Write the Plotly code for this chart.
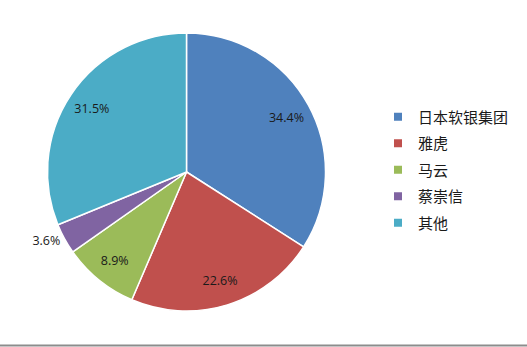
import plotly.graph_objects as go

labels = ["日本软银集团", "雅虎", "马云", "蔡崇信", "其他"]
values = [34.4, 22.6, 8.9, 3.6, 31.5]
colors = ["#4F81BD", "#C0504D", "#9BBB59", "#8064A2", "#4BACC6"]
outer_text = ["none", "none", "none", "outside", "none"]
ring_text = ["inside", "inside", "inside", "none", "inside"]

W, H = 527, 347
cx, cy, r = 186.5, 172, 139
dom = dict(x=[(cx - r) / W, (cx + r) / W], y=[(H - cy - r) / H, (H - cy + r) / H])
lab_font = dict(family="Open Sans, Liberation Sans, sans-serif", size=12.5, color="#1a1a1a")

fig = go.Figure()
fig.add_trace(go.Pie(
    labels=labels,
    values=values,
    sort=False,
    direction="clockwise",
    rotation=0,
    marker=dict(colors=colors, line=dict(color="white", width=1.5)),
    texttemplate="%{value:.1f}%",
    textposition=outer_text,
    textfont=lab_font,
    showlegend=False,
    hoverinfo="label+value",
    domain=dom,
))
# transparent ring used only to place the inside labels further out
fig.add_trace(go.Pie(
    labels=labels,
    values=values,
    sort=False,
    direction="clockwise",
    rotation=0,
    hole=0.64,
    marker=dict(colors=["rgba(0,0,0,0)"] * len(values), line=dict(width=0)),
    texttemplate="%{value:.1f}%",
    textposition=ring_text,
    insidetextorientation="horizontal",
    insidetextfont=lab_font,
    showlegend=False,
    hoverinfo="skip",
    domain=dom,
))

for i, (lab, col) in enumerate(zip(labels, colors)):
    fig.add_trace(go.Scatter(
        x=[None], y=[None], mode="markers", name=lab,
        marker=dict(symbol="square", size=8, color=col),
        legendgroup=f"g{i}", showlegend=True,
    ))

fig.update_layout(
    width=W, height=H,
    margin=dict(l=0, r=0, t=0, b=0),
    paper_bgcolor="white", plot_bgcolor="white",
    xaxis=dict(visible=False), yaxis=dict(visible=False),
    legend=dict(
        x=378 / W, y=(H - 170) / H, xanchor="left", yanchor="middle",
        font=dict(family="Noto Sans CJK SC", size=15, color="#1a1a1a"),
        tracegroupgap=4, bgcolor="rgba(0,0,0,0)",
    ),
    shapes=[dict(type="line", xref="paper", yref="paper", x0=0, x1=1,
                 y0=1.5 / H, y1=1.5 / H, line=dict(color="#8c8c8c", width=2))],
)

fig.write_html("out.html")
